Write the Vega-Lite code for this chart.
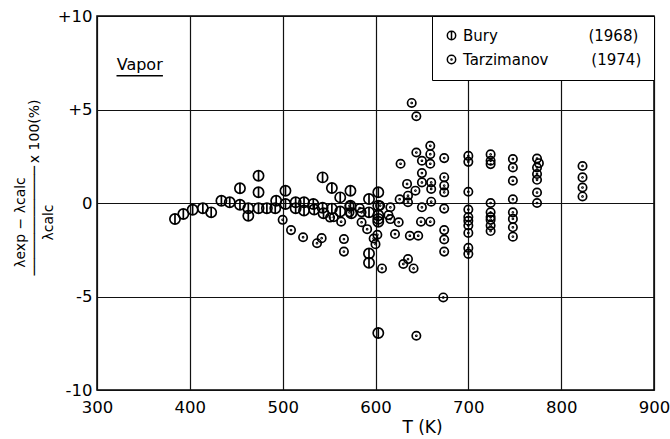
{
  "$schema": "https://vega.github.io/schema/vega-lite/v6.json",
  "width": 557,
  "height": 374,
  "autosize": {"type": "none"},
  "padding": {"left": 97, "top": 16, "right": 16, "bottom": 49},
  "background": "white",
  "config": {
    "view": {"stroke": "black", "strokeWidth": 1.5},
    "font": "DejaVu Sans"
  },
  "datasets": {
    "points": [
      {"series": "Bury", "T": 384, "dev": -0.86},
      {"series": "Bury", "T": 393, "dev": -0.59},
      {"series": "Bury", "T": 403, "dev": -0.36},
      {"series": "Bury", "T": 414, "dev": -0.28},
      {"series": "Bury", "T": 423, "dev": -0.5},
      {"series": "Bury", "T": 434, "dev": 0.12},
      {"series": "Bury", "T": 443, "dev": 0.04},
      {"series": "Bury", "T": 454, "dev": 0.79},
      {"series": "Bury", "T": 454, "dev": -0.09},
      {"series": "Bury", "T": 463, "dev": -0.28},
      {"series": "Bury", "T": 463, "dev": -0.68},
      {"series": "Bury", "T": 474, "dev": 1.46},
      {"series": "Bury", "T": 474, "dev": 0.57},
      {"series": "Bury", "T": 474, "dev": -0.28},
      {"series": "Bury", "T": 483, "dev": -0.28},
      {"series": "Bury", "T": 492, "dev": -0.28},
      {"series": "Bury", "T": 493, "dev": 0.12},
      {"series": "Bury", "T": 503, "dev": 0.66},
      {"series": "Bury", "T": 503, "dev": -0.05},
      {"series": "Bury", "T": 514, "dev": 0.04},
      {"series": "Bury", "T": 514, "dev": -0.28},
      {"series": "Bury", "T": 523, "dev": 0.04},
      {"series": "Bury", "T": 523, "dev": -0.4},
      {"series": "Bury", "T": 533, "dev": -0.05},
      {"series": "Bury", "T": 534, "dev": -0.35},
      {"series": "Bury", "T": 543, "dev": 1.37},
      {"series": "Bury", "T": 543, "dev": -0.25},
      {"series": "Bury", "T": 544, "dev": -0.55},
      {"series": "Bury", "T": 553, "dev": 0.8},
      {"series": "Bury", "T": 553, "dev": -0.3},
      {"series": "Bury", "T": 562, "dev": 0.3},
      {"series": "Bury", "T": 562, "dev": -0.45},
      {"series": "Bury", "T": 573, "dev": 0.66},
      {"series": "Bury", "T": 573, "dev": -0.15},
      {"series": "Bury", "T": 574, "dev": -0.55},
      {"series": "Bury", "T": 593, "dev": 0.21},
      {"series": "Bury", "T": 593, "dev": -2.7},
      {"series": "Bury", "T": 593, "dev": -3.2},
      {"series": "Bury", "T": 593, "dev": -0.5},
      {"series": "Bury", "T": 603, "dev": 0.57},
      {"series": "Bury", "T": 603, "dev": -0.65},
      {"series": "Bury", "T": 603, "dev": -0.85},
      {"series": "Bury", "T": 603, "dev": -1.0},
      {"series": "Bury", "T": 603, "dev": -6.95},
      {"series": "Bury", "T": 603, "dev": -0.15},
      {"series": "Tarzimanov", "T": 500, "dev": -0.9},
      {"series": "Tarzimanov", "T": 509, "dev": -1.45},
      {"series": "Tarzimanov", "T": 522, "dev": -1.83},
      {"series": "Tarzimanov", "T": 537, "dev": -2.15},
      {"series": "Tarzimanov", "T": 542, "dev": -1.88},
      {"series": "Tarzimanov", "T": 551, "dev": -0.78},
      {"series": "Tarzimanov", "T": 555, "dev": -0.76},
      {"series": "Tarzimanov", "T": 563, "dev": -1.0},
      {"series": "Tarzimanov", "T": 566, "dev": -1.93},
      {"series": "Tarzimanov", "T": 566, "dev": -2.6},
      {"series": "Tarzimanov", "T": 572, "dev": -0.5},
      {"series": "Tarzimanov", "T": 572, "dev": -0.15},
      {"series": "Tarzimanov", "T": 583, "dev": -0.27},
      {"series": "Tarzimanov", "T": 585, "dev": -0.5},
      {"series": "Tarzimanov", "T": 585, "dev": -1.03},
      {"series": "Tarzimanov", "T": 591, "dev": -1.4},
      {"series": "Tarzimanov", "T": 598, "dev": -1.9},
      {"series": "Tarzimanov", "T": 600, "dev": -2.2},
      {"series": "Tarzimanov", "T": 602, "dev": -1.7},
      {"series": "Tarzimanov", "T": 605, "dev": -0.14},
      {"series": "Tarzimanov", "T": 607, "dev": -3.5},
      {"series": "Tarzimanov", "T": 614, "dev": -0.65},
      {"series": "Tarzimanov", "T": 616, "dev": -0.23},
      {"series": "Tarzimanov", "T": 616, "dev": -0.86},
      {"series": "Tarzimanov", "T": 621, "dev": -1.66},
      {"series": "Tarzimanov", "T": 625, "dev": -1.03},
      {"series": "Tarzimanov", "T": 626, "dev": 0.2},
      {"series": "Tarzimanov", "T": 627, "dev": 2.1},
      {"series": "Tarzimanov", "T": 630, "dev": -3.26},
      {"series": "Tarzimanov", "T": 634, "dev": 1.02},
      {"series": "Tarzimanov", "T": 635, "dev": 0.39},
      {"series": "Tarzimanov", "T": 635, "dev": 0.04},
      {"series": "Tarzimanov", "T": 635, "dev": -3.0},
      {"series": "Tarzimanov", "T": 637, "dev": -1.75},
      {"series": "Tarzimanov", "T": 639, "dev": 5.35},
      {"series": "Tarzimanov", "T": 641, "dev": -3.5},
      {"series": "Tarzimanov", "T": 643, "dev": 0.66},
      {"series": "Tarzimanov", "T": 644, "dev": 4.64},
      {"series": "Tarzimanov", "T": 644, "dev": 2.7},
      {"series": "Tarzimanov", "T": 646, "dev": -1.75},
      {"series": "Tarzimanov", "T": 644, "dev": -7.1},
      {"series": "Tarzimanov", "T": 650, "dev": 2.26},
      {"series": "Tarzimanov", "T": 650, "dev": 1.6},
      {"series": "Tarzimanov", "T": 650, "dev": 1.1},
      {"series": "Tarzimanov", "T": 650, "dev": -0.23},
      {"series": "Tarzimanov", "T": 649, "dev": -1.0},
      {"series": "Tarzimanov", "T": 659, "dev": 3.06},
      {"series": "Tarzimanov", "T": 659, "dev": 2.61},
      {"series": "Tarzimanov", "T": 659, "dev": 2.1},
      {"series": "Tarzimanov", "T": 660, "dev": 1.1},
      {"series": "Tarzimanov", "T": 660, "dev": 0.75},
      {"series": "Tarzimanov", "T": 660, "dev": 0.07},
      {"series": "Tarzimanov", "T": 659, "dev": -1.0},
      {"series": "Tarzimanov", "T": 674, "dev": 2.4},
      {"series": "Tarzimanov", "T": 674, "dev": 1.38},
      {"series": "Tarzimanov", "T": 674, "dev": 0.93},
      {"series": "Tarzimanov", "T": 674, "dev": 0.57},
      {"series": "Tarzimanov", "T": 674, "dev": -0.3},
      {"series": "Tarzimanov", "T": 674, "dev": -1.45},
      {"series": "Tarzimanov", "T": 674, "dev": -1.95},
      {"series": "Tarzimanov", "T": 674, "dev": -2.6},
      {"series": "Tarzimanov", "T": 673, "dev": -5.05},
      {"series": "Tarzimanov", "T": 700, "dev": 2.52},
      {"series": "Tarzimanov", "T": 700, "dev": 2.2},
      {"series": "Tarzimanov", "T": 700, "dev": 0.6},
      {"series": "Tarzimanov", "T": 700, "dev": -0.35},
      {"series": "Tarzimanov", "T": 700, "dev": -0.75},
      {"series": "Tarzimanov", "T": 700, "dev": -0.95},
      {"series": "Tarzimanov", "T": 700, "dev": -1.2},
      {"series": "Tarzimanov", "T": 700, "dev": -1.6},
      {"series": "Tarzimanov", "T": 700, "dev": -2.4},
      {"series": "Tarzimanov", "T": 700, "dev": -2.72},
      {"series": "Tarzimanov", "T": 724, "dev": 2.6},
      {"series": "Tarzimanov", "T": 724, "dev": 2.26},
      {"series": "Tarzimanov", "T": 724, "dev": 2.08},
      {"series": "Tarzimanov", "T": 724, "dev": 0.0},
      {"series": "Tarzimanov", "T": 724, "dev": -0.5},
      {"series": "Tarzimanov", "T": 724, "dev": -0.75},
      {"series": "Tarzimanov", "T": 724, "dev": -0.9},
      {"series": "Tarzimanov", "T": 724, "dev": -1.2},
      {"series": "Tarzimanov", "T": 724, "dev": -1.5},
      {"series": "Tarzimanov", "T": 748, "dev": 2.35},
      {"series": "Tarzimanov", "T": 748, "dev": 1.9},
      {"series": "Tarzimanov", "T": 748, "dev": 1.19},
      {"series": "Tarzimanov", "T": 748, "dev": 0.2},
      {"series": "Tarzimanov", "T": 748, "dev": -0.5},
      {"series": "Tarzimanov", "T": 748, "dev": -0.85},
      {"series": "Tarzimanov", "T": 748, "dev": -1.3},
      {"series": "Tarzimanov", "T": 748, "dev": -1.8},
      {"series": "Tarzimanov", "T": 774, "dev": 2.38},
      {"series": "Tarzimanov", "T": 776, "dev": 2.13},
      {"series": "Tarzimanov", "T": 774, "dev": 1.9},
      {"series": "Tarzimanov", "T": 774, "dev": 1.55},
      {"series": "Tarzimanov", "T": 774, "dev": 1.24},
      {"series": "Tarzimanov", "T": 774, "dev": 0.56},
      {"series": "Tarzimanov", "T": 774, "dev": 0.0},
      {"series": "Tarzimanov", "T": 823, "dev": 1.98},
      {"series": "Tarzimanov", "T": 823, "dev": 1.37},
      {"series": "Tarzimanov", "T": 823, "dev": 0.83},
      {"series": "Tarzimanov", "T": 823, "dev": 0.35}
    ],
    "notes": [
      {"T": 346, "dev": 7.1, "T2": 371, "T1": 321, "under": 6.8, "label": "Vapor"}
    ]
  },
  "layer": [
    {
      "data": {"name": "points"},
      "mark": {"type": "point", "filled": false, "color": "black", "opacity": 1, "strokeWidth": 1.7},
      "encoding": {
        "x": {
          "field": "T",
          "type": "quantitative",
          "scale": {"domain": [300, 900], "nice": false, "zero": false},
          "axis": {
            "title": "T (K)",
            "values": [300, 400, 500, 600, 700, 800, 900],
            "grid": true,
            "gridColor": "#111111",
            "gridWidth": 1.2,
            "domain": false,
            "ticks": false,
            "labelFlush": false,
            "labelOverlap": false,
            "labelFont": "DejaVu Sans",
            "labelFontSize": 16.5,
            "labelColor": "black",
            "labelPadding": 9,
            "titleFont": "DejaVu Sans",
            "titleFontSize": 17,
            "titleFontWeight": "normal",
            "titleColor": "black",
            "titleX": 325,
            "titlePadding": 4
          }
        },
        "y": {
          "field": "dev",
          "type": "quantitative",
          "scale": {"domain": [-10, 10], "nice": false},
          "axis": {
            "title": ["λexp − λcalc", "\u200b\u2003\u2003\u2003\u2003\u2003─────────────\u2009x 100(%)", "λcalc"],
            "values": [-10, -5, 0, 5, 10],
            "labelExpr": "datum.value > 0 ? '+' + datum.value : '' + datum.value",
            "grid": true,
            "gridColor": "#111111",
            "gridWidth": 1.2,
            "domain": false,
            "ticks": false,
            "labelFlush": false,
            "labelOverlap": false,
            "labelFont": "DejaVu Sans",
            "labelFontSize": 16.5,
            "labelColor": "black",
            "labelPadding": 5,
            "titleFont": "DejaVu Sans",
            "titleFontSize": 14,
            "titleFontWeight": "normal",
            "titleColor": "black",
            "titleLineHeight": 14,
            "titleY": 206,
            "titlePadding": 2
          }
        },
        "shape": {
          "field": "series",
          "type": "nominal",
          "scale": {
            "domain": ["Bury", "Tarzimanov"],
            "range": [
              "M -1 0 A 1 1 0 1 0 1 0 A 1 1 0 1 0 -1 0 Z M 0 -1 L 0 1",
              "M -1 0 A 1 1 0 1 0 1 0 A 1 1 0 1 0 -1 0 Z M -0.12 0 A 0.12 0.12 0 1 0 0.12 0 A 0.12 0.12 0 1 0 -0.12 0 Z"
            ]
          },
          "legend": {
            "orient": "top-right",
            "offset": 0,
            "title": null,
            "strokeColor": "black",
            "fillColor": "white",
            "padding": 12,
            "rowPadding": 8,
            "labelFont": "DejaVu Sans",
            "labelFontSize": 15,
            "labelColor": "black",
            "labelLimit": 400,
            "symbolSize": 70,
            "symbolStrokeWidth": 1.5,
            "symbolStrokeColor": "black",
            "symbolFillColor": "white",
            "labelExpr": "datum.value == 'Bury' ? 'Bury\u00a0\u00a0\u00a0\u00a0\u00a0\u00a0\u00a0\u00a0\u00a0\u00a0\u00a0\u00a0\u00a0\u00a0\u00a0\u00a0\u00a0\u00a0\u00a0(1968)' : 'Tarzimanov\u00a0\u00a0\u00a0\u00a0\u00a0\u00a0\u00a0\u00a0\u00a0(1974)'"
          }
        },
        "size": {
          "condition": {"test": "datum.series == 'Bury'", "value": 105},
          "value": 70
        }
      }
    },
    {
      "data": {"name": "notes"},
      "mark": {"type": "text", "font": "DejaVu Sans", "fontSize": 16, "color": "black", "align": "center", "baseline": "alphabetic"},
      "encoding": {
        "x": {"field": "T", "type": "quantitative"},
        "y": {"field": "dev", "type": "quantitative"},
        "text": {"field": "label"}
      }
    },
    {
      "data": {"name": "notes"},
      "mark": {"type": "rule", "color": "black", "strokeWidth": 1.5},
      "encoding": {
        "x": {"field": "T1", "type": "quantitative"},
        "x2": {"field": "T2"},
        "y": {"field": "under", "type": "quantitative"}
      }
    }
  ]
}
